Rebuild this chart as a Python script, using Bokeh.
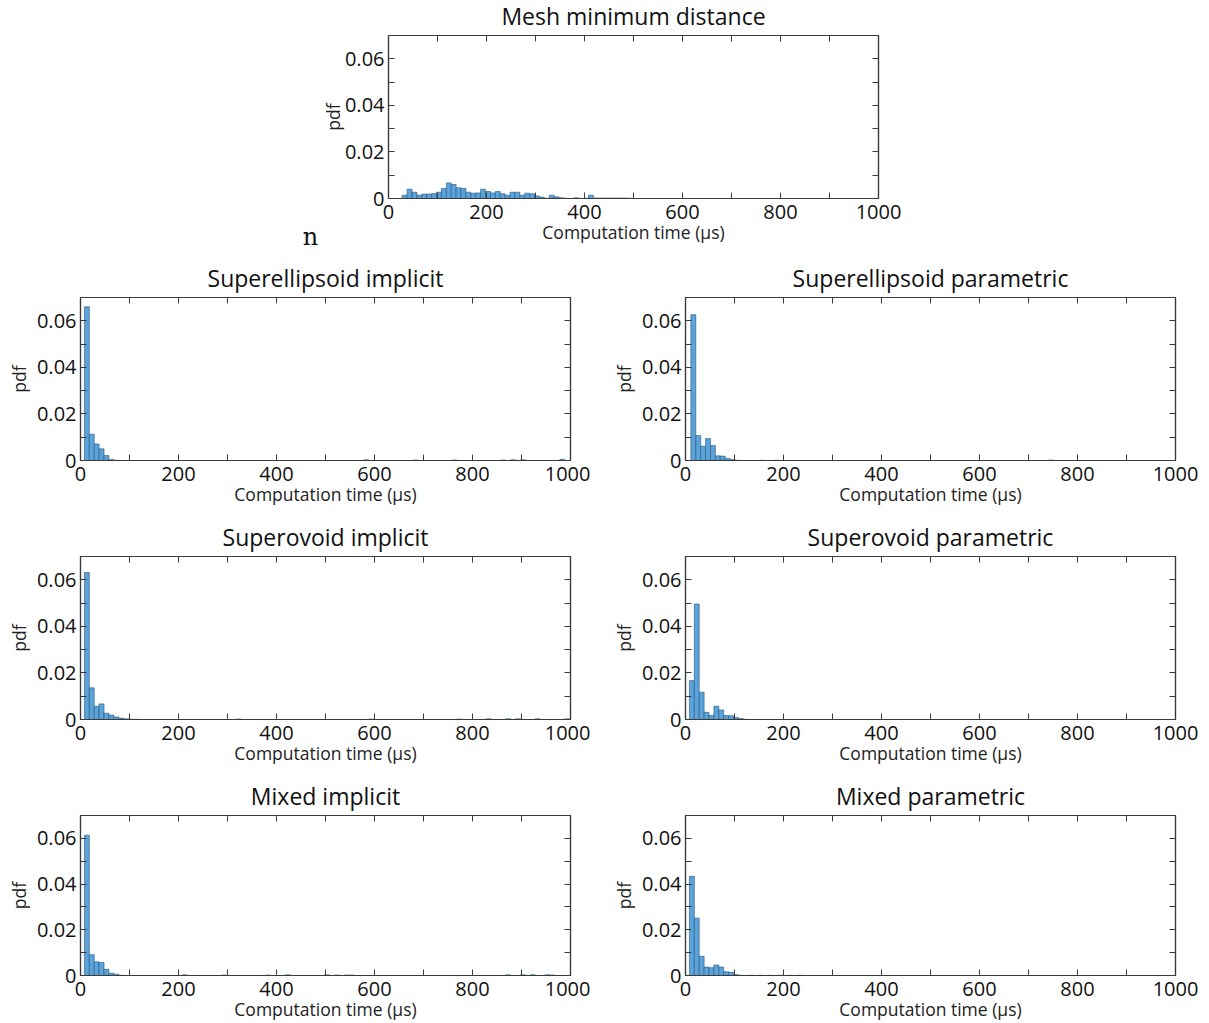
from bokeh.plotting import figure
from bokeh.models import FixedTicker, LinearAxis, Range1d, ColumnDataSource, Label
from bokeh.layouts import column, row
from bokeh.embed import file_html
from bokeh.resources import INLINE

# ---------------- data (pdf per 10 µs bin) ----------------
BIN_WIDTH = 10

mesh_title = "Mesh minimum distance"
mesh_start = 28
mesh_pdf = [0.0014, 0.0040, 0.0027, 0.0014, 0.0019, 0.0019, 0.0021, 0.0027, 0.0043, 0.0067,
            0.0060, 0.0046, 0.0043, 0.0027, 0.0023, 0.0024, 0.0040, 0.0030, 0.0024, 0.0030,
            0.0020, 0.0014, 0.0027, 0.0027, 0.0014, 0.0023, 0.0020, 0.0011, 0.0006, 0.0001,
            0.0014, 0.0007, 0.0003, 0.0001, 0.0000, 0.0003, 0.0000, 0.0001, 0.0014, 0.0002,
            0.0002, 0.0002, 0.0002, 0.0002, 0.0002, 0.0002, 0.0001]
mesh_tail_x = []
mesh_tail_pdf = []

sei_title = "Superellipsoid implicit"
sei_start = 8
sei_pdf = [0.0660, 0.0113, 0.0071, 0.0050, 0.0021, 0.0004, 0.0001]
sei_tail_x = [578, 678, 758, 858, 878, 898, 978]
sei_tail_pdf = [0.0003, 0.0002, 0.0002, 0.0002, 0.0003, 0.0003, 0.0005]

sep_title = "Superellipsoid parametric"
sep_start = 11
sep_pdf = [0.0626, 0.0107, 0.0061, 0.0094, 0.0064, 0.0020, 0.0019, 0.0009, 0.0004, 0.0001]
sep_tail_x = [151, 181, 741]
sep_tail_pdf = [0.0001, 0.0001, 0.0002]

soi_title = "Superovoid implicit"
soi_start = 8
soi_pdf = [0.0631, 0.0136, 0.0057, 0.0067, 0.0027, 0.0019, 0.0011, 0.0006, 0.0003, 0.0001, 0.0001]
soi_tail_x = [318, 588, 768, 828, 868, 888, 928, 988]
soi_tail_pdf = [0.0002, 0.0002, 0.0002, 0.0003, 0.0003, 0.0003, 0.0003, 0.0003]

sop_title = "Superovoid parametric"
sop_start = 8
sop_pdf = [0.0167, 0.0496, 0.0117, 0.0031, 0.0017, 0.0057, 0.0041, 0.0017, 0.0016, 0.0009,
           0.0004, 0.0001]
sop_tail_x = []
sop_tail_pdf = []

mi_title = "Mixed implicit"
mi_start = 8
mi_pdf = [0.0614, 0.0091, 0.0060, 0.0057, 0.0027, 0.0010, 0.0006, 0.0001]
mi_tail_x = [208, 288, 378, 418, 498, 518, 538, 548, 868, 898, 918, 948, 958]
mi_tail_pdf = [0.0003, 0.0002, 0.0002, 0.0003, 0.0003, 0.0002, 0.0002, 0.0002, 0.0003,
               0.0003, 0.0003, 0.0003, 0.0002]

mp_title = "Mixed parametric"
mp_start = 8
mp_pdf = [0.0434, 0.0251, 0.0084, 0.0037, 0.0034, 0.0046, 0.0037, 0.0016, 0.0014, 0.0004, 0.0001]
mp_tail_x = [128, 148, 168, 188, 208, 228]
mp_tail_pdf = [0.0001, 0.0001, 0.0001, 0.0001, 0.0001, 0.0001]

x_ticks = [0, 200, 400, 600, 800, 1000]
x_minor = [100, 300, 500, 700, 900]
x_all = [0, 100, 200, 300, 400, 500, 600, 700, 800, 900, 1000]
y_ticks = [0, 0.02, 0.04, 0.06]
y_minor = [0.01, 0.03, 0.05]
y_all = [0, 0.01, 0.02, 0.03, 0.04, 0.05, 0.06]
y_labels = {0: "0", 0.02: "0.02", 0.04: "0.04", 0.06: "0.06"}
x_label = "Computation time (\u03bcs)"
y_label = "pdf"
stray_text = "n"

# ---------------- styling ----------------
FONT = "Open Sans"
BAR_FILL = "#5ba3d9"
BAR_LINE = "#24557f"
AXIS_COL = "#3a3a3a"


def style_axis(ax, labels=True):
    ax.axis_line_color = AXIS_COL
    ax.axis_line_width = 1.2
    ax.major_tick_in = 6
    ax.major_tick_out = 0
    ax.minor_tick_in = 6
    ax.minor_tick_out = 0
    ax.major_tick_line_color = AXIS_COL
    ax.minor_tick_line_color = AXIS_COL
    if labels:
        ax.major_label_text_font = FONT
        ax.major_label_text_font_size = "20px"
        ax.major_label_text_color = "#111111"
        ax.major_label_text_line_height = 1.0
        ax.axis_label_text_font = FONT
        ax.axis_label_text_font_size = "17.5px"
        ax.axis_label_text_font_style = "normal"
        ax.axis_label_text_color = "#222222"
        ax.axis_label_text_line_height = 1.0


def make_fig(title, start, pdf, tail_x, tail_pdf, width, height, bl, br, bt, bb,
             margin=None, ylabel_standoff=3):
    p = figure(width=width, height=height, x_range=Range1d(0, 1000), y_range=Range1d(0, 0.07),
               output_backend="svg", toolbar_location=None, title=title,
               min_border_left=bl, min_border_right=br, min_border_top=bt, min_border_bottom=bb)
    if margin is not None:
        p.margin = margin
    p.title.text_font = FONT
    p.title.text_font_size = "23px"
    p.title.text_font_style = "normal"
    p.title.text_color = "#111111"
    p.title.align = "center"
    p.title.standoff = 7
    p.grid.visible = False
    p.outline_line_color = AXIS_COL
    p.outline_line_width = 1.2
    p.background_fill_color = "white"
    p.border_fill_color = "white"

    lefts = [start + i * BIN_WIDTH for i in range(len(pdf))] + list(tail_x)
    tops = list(pdf) + list(tail_pdf)
    src = ColumnDataSource(dict(left=lefts, right=[l + BIN_WIDTH for l in lefts], top=tops))
    p.quad(left="left", right="right", bottom=0, top="top", source=src,
           fill_color=BAR_FILL, line_color=BAR_LINE, line_width=0.6)

    p.xaxis.ticker = FixedTicker(ticks=x_ticks, minor_ticks=x_minor)
    p.yaxis.ticker = FixedTicker(ticks=y_ticks, minor_ticks=y_minor)
    p.yaxis.major_label_overrides = y_labels
    p.xaxis.axis_label = x_label
    p.yaxis.axis_label = y_label
    style_axis(p.xaxis[0])
    style_axis(p.yaxis[0])
    p.xaxis.major_label_standoff = 6
    p.xaxis.axis_label_standoff = -2
    p.yaxis.major_label_standoff = 4
    p.yaxis.axis_label_standoff = ylabel_standoff

    # tick marks on the top and right edges (no labels: only minor ticks)
    top_ax = LinearAxis(ticker=FixedTicker(ticks=[], minor_ticks=x_all))
    right_ax = LinearAxis(ticker=FixedTicker(ticks=[], minor_ticks=y_all))
    style_axis(top_ax, labels=False)
    style_axis(right_ax, labels=False)
    p.add_layout(top_ax, "above")
    p.add_layout(right_ax, "right")
    return p


LW, LBL, LBR = 590, 80, 20
RW, RBL, RBR = 610, 95, 25
TOP_H = 254
MESH_BL = 77
N_OFF = 388 - MESH_BL
N_H = 30
N_X = 310

p_mesh = make_fig(mesh_title, mesh_start, mesh_pdf, mesh_tail_x, mesh_tail_pdf,
                  MESH_BL + 490 + 25, TOP_H + 7, MESH_BL, 25, 42, 56,
                  margin=(-7, 0, 0, N_OFF), ylabel_standoff=-3)

# stray "n" glyph of the original page: a transparent strip overlapping the bottom of the top row
# (its left border is aligned by the column with the top chart's left border)
p_n = figure(width=1200, height=N_H, x_range=Range1d(0, 1), y_range=Range1d(0, 1),
             output_backend="svg", toolbar_location=None, min_border=0, title=None)
p_n.margin = (-N_H, 0, 0, 0)
p_n.axis.visible = False
p_n.grid.visible = False
p_n.outline_line_color = None
p_n.background_fill_color = None
p_n.border_fill_color = None
p_n.add_layout(Label(x=N_X - MESH_BL, y=18, x_units="screen", y_units="screen", text=stray_text,
                     text_font="DejaVu Serif", text_font_size="24px", text_color="#111111",
                     text_align="center", text_baseline="alphabetic"))

p1 = make_fig(sei_title, sei_start, sei_pdf, sei_tail_x, sei_tail_pdf, LW, 259, LBL, LBR, 43, 53)
p2 = make_fig(sep_title, sep_start, sep_pdf, sep_tail_x, sep_tail_pdf, RW, 259, RBL, RBR, 43, 53)
p3 = make_fig(soi_title, soi_start, soi_pdf, soi_tail_x, soi_tail_pdf, LW, 259, LBL, LBR, 43, 53)
p4 = make_fig(sop_title, sop_start, sop_pdf, sop_tail_x, sop_tail_pdf, RW, 259, RBL, RBR, 43, 53)
p5 = make_fig(mi_title, mi_start, mi_pdf, mi_tail_x, mi_tail_pdf, LW, 251, LBL, LBR, 43, 45)
p6 = make_fig(mp_title, mp_start, mp_pdf, mp_tail_x, mp_tail_pdf, RW, 251, RBL, RBR, 43, 45)

layout = column(p_mesh, p_n, row(p1, p2), row(p3, p4), row(p5, p6))

open("out.html", "w").write(file_html(layout, INLINE))
